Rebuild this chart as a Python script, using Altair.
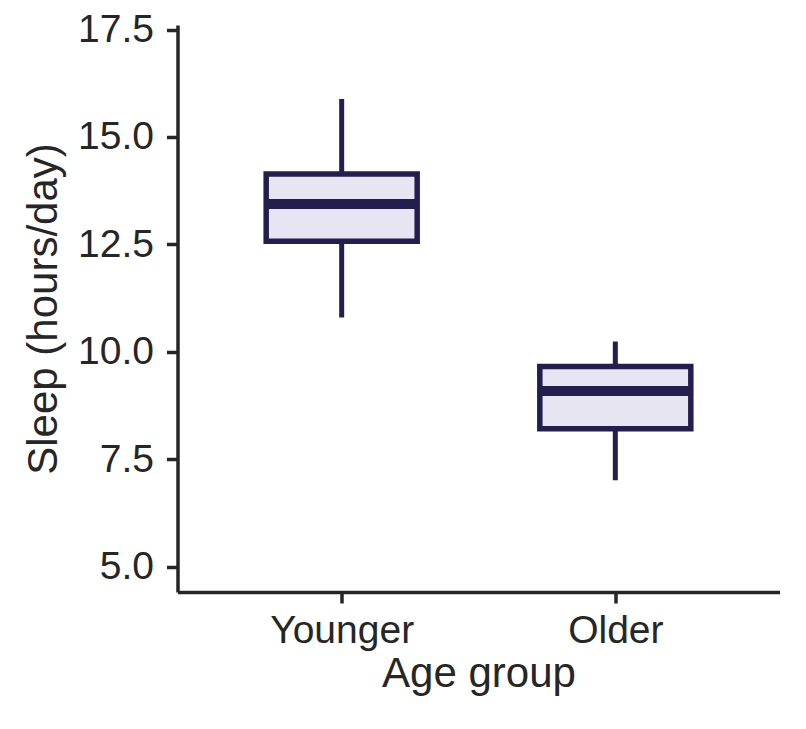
import pandas as pd
import altair as alt

# box summary per age group
groups = ["Younger", "Older"]
whisker_low = [10.80, 7.01]
q1 = [12.57, 8.21]
median = [13.44, 9.09]
q3 = [14.14, 9.66]
whisker_high = [15.88, 10.24]

y_ticks = [5.0, 7.5, 10.0, 12.5, 15.0, 17.5]

df = pd.DataFrame({
    "group": groups,
    "lo": whisker_low,
    "q1": q1,
    "med": median,
    "q3": q3,
    "hi": whisker_high,
})

stroke = "#241e4e"
fill = "#e8e5f3"
ink = "#262626"

x = alt.X("group:N", sort=groups, title="Age group",
          scale=alt.Scale(type="point", padding=0.6),
          axis=alt.Axis(labelAngle=0))
y_scale = alt.Scale(domain=[4.41, 17.605], nice=False, zero=False)

base = alt.Chart(df).encode(x=x)

whiskers = base.mark_rule(color=stroke, strokeWidth=5).encode(
    y=alt.Y("lo:Q", scale=y_scale, title="Sleep (hours/day)",
            axis=alt.Axis(values=y_ticks, format=".1f")),
    y2="hi:Q",
)

box = base.mark_bar(fill=fill, stroke=stroke, strokeWidth=5.5, size=151).encode(
    y=alt.Y("q1:Q", scale=y_scale),
    y2="q3:Q",
)

med = base.mark_tick(color=stroke, thickness=10, size=151, opacity=1).encode(
    y=alt.Y("med:Q", scale=y_scale),
)

chart = alt.layer(whiskers, box, med).properties(
    width=602,
    height=567,
    autosize=alt.AutoSizeParams(type="none"),
    padding={"left": 169.5, "top": 17, "right": 18.5, "bottom": 129},
).configure_view(
    strokeWidth=0
).configure_axis(
    grid=False,
    domainColor=ink,
    domainWidth=3.5,
    tickColor=ink,
    tickWidth=3.5,
    tickSize=11,
    labelFont="Liberation Sans",
    labelFontSize=39,
    labelColor=ink,
    titleFont="Liberation Sans",
    titleFontSize=42,
    titleFontWeight="normal",
    titleColor=ink,
).configure_axisX(
    labelPadding=8,
    titlePadding=3,
).configure_axisY(
    labelPadding=13,
    titlePadding=12,
)

chart.save("out.html", embed_options={"renderer": "svg", "actions": False})
